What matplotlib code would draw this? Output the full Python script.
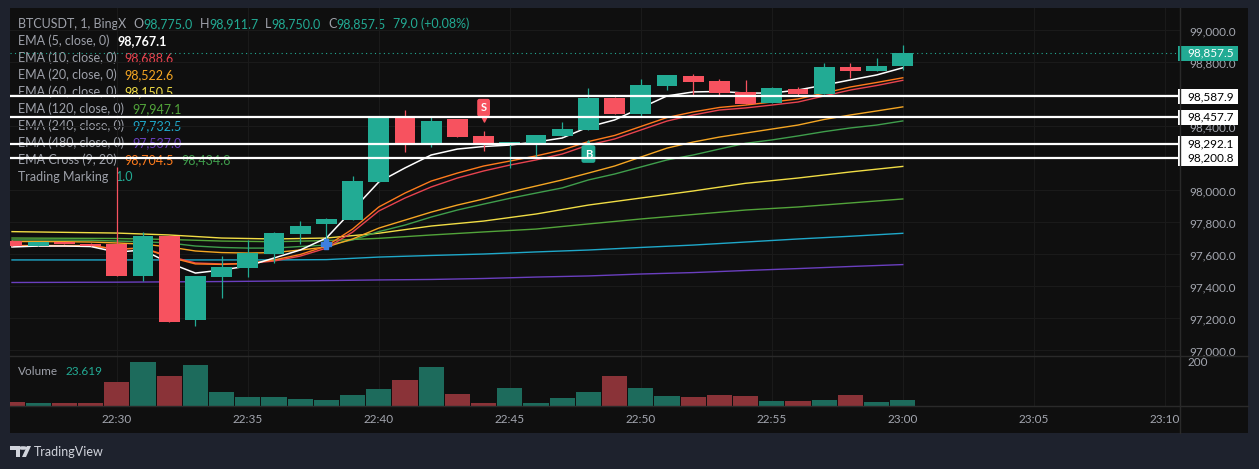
import numpy as np
import matplotlib
matplotlib.use("Agg")
import matplotlib.pyplot as plt
import matplotlib.transforms as mtransforms
from matplotlib.patches import Rectangle, Polygon, Circle

W, H = 1259, 469
FRAME = "#1e222d"; CHART = "#0f0f0f"; GRID = "#1a1a1a"; SEP = "#2a2a2a"
TXT = "#9ea1aa"; AXT = "#a3a6af"
UP = "#22ab94"; DN = "#f7525f"; VUP = "#1d6b5c"; VDN = "#8a3338"
plt.rcParams["font.family"] = ["Lato", "DejaVu Sans"]

# ---- data (1-minute candles, 22:26 .. 23:00) ----
opens = [97684, 97655, 97676, 97668, 97666, 97466, 97716, 97190, 97460, 97518, 97601, 97728,
         97791, 97816, 98055, 98455, 98284, 98447, 98341, 98289, 98295, 98341, 98378, 98578,
         98478, 98653, 98716, 98684, 98616, 98549, 98633, 98601, 98774, 98749, 98775.0]
highs = [97690, 97680, 97680, 97672, 98147, 97741, 97722, 97466, 97590, 97690, 97740, 97809,
         97826, 98090, 98461, 98503, 98466, 98447, 98374, 98305, 98347, 98428, 98639, 98586,
         98697, 98722, 98728, 98697, 98691, 98645, 98645, 98795, 98799, 98828, 98911.7]
lows = [97650, 97650, 97665, 97650, 97466, 97436, 97180, 97153, 97330, 97461, 97545, 97666,
        97666, 97816, 98050, 98242, 98274, 98336, 98249, 98141, 98201, 98341, 98378, 98478,
        98458, 98628, 98591, 98591, 98541, 98549, 98591, 98601, 98705, 98749, 98750.0]
closes = [97653, 97676, 97668, 97655, 97466, 97716, 97180, 97466, 97522, 97607, 97733, 97778,
          97822, 98059, 98455, 98289, 98434, 98336, 98289, 98301, 98347, 98383, 98578, 98478,
          98659, 98722, 98678, 98611, 98541, 98639, 98601, 98774, 98749, 98778, 98857.5]
volumes = [16, 13, 13, 13, 94, 173, 118, 161, 55, 35, 35, 27.5, 24, 43, 67, 102, 153, 47, 13,
           71, 13, 31, 55, 118, 71, 39, 35, 43, 39, 20, 20, 24, 43, 16, 23.619]
time_ticks = [4, 9, 14, 19, 24, 29, 34, 39, 44]
time_labels = ["22:30", "22:35", "22:40", "22:45", "22:50", "22:55", "23:00", "23:05", "23:10"]

ema5 = [97647, 97653, 97653, 97650, 97615, 97628, 97547, 97484, 97503, 97528, 97578, 97628,
        97703, 97878, 98053, 98141, 98222, 98259, 98275, 98284, 98303, 98328, 98397, 98441,
        98516, 98591, 98616, 98619, 98609, 98609, 98628, 98659, 98691, 98722, 98767.1]
ema10 = [97653, 97653, 97653, 97653, 97634, 97640, 97590, 97547, 97541, 97544, 97559, 97590,
         97640, 97740, 97872, 97953, 98022, 98078, 98122, 98159, 98191, 98228, 98284, 98322,
         98378, 98434, 98472, 98503, 98516, 98534, 98553, 98591, 98628, 98656, 98688.6]
cross_fast = [97656, 97656, 97656, 97656, 97634, 97640, 97584, 97541, 97538, 97544, 97566, 97600,
              97653, 97759, 97897, 97984, 98059, 98109, 98153, 98184, 98216, 98253, 98306, 98344,
              98400, 98456, 98491, 98519, 98534, 98553, 98572, 98609, 98647, 98675, 98704.5]
ema20 = [97681, 97681, 97680, 97678, 97672, 97665, 97647, 97622, 97612, 97609, 97612, 97628,
         97647, 97697, 97765, 97815, 97865, 97909, 97947, 97990, 98028, 98066, 98109, 98153,
         98209, 98265, 98303, 98334, 98359, 98384, 98409, 98444, 98472, 98497, 98522.6]
cross_slow = [97691, 97691, 97690, 97689, 97684, 97680, 97672, 97653, 97644, 97640, 97640, 97650,
              97659, 97691, 97743, 97784, 97834, 97878, 97915, 97951, 97984, 98016, 98066, 98103,
              98147, 98191, 98222, 98259, 98295, 98316, 98341, 98368, 98391, 98409, 98434.8]
slow_idx = [0, 4, 6, 8, 10, 12, 14, 16, 18, 20, 22, 24, 26, 28, 30, 32, 34]
ema60 = [97743, 97734, 97722, 97703, 97697, 97703, 97733, 97778, 97809, 97853, 97909, 97953,
         97997, 98045, 98078, 98116, 98150.5]
ema120 = [97703, 97700, 97694, 97684, 97680, 97687, 97701, 97722, 97741, 97759, 97791, 97822,
          97850, 97878, 97897, 97922, 97947.1]
ema240 = [97566, 97566, 97566, 97566, 97566, 97568, 97584, 97594, 97603, 97616, 97628, 97644,
          97659, 97678, 97697, 97714, 97732.5]
ema480 = [97425, 97427, 97429, 97431, 97434, 97437, 97441, 97444, 97450, 97459, 97466, 97478,
          97487, 97500, 97512, 97525, 97537.0]
levels = [98587.9, 98457.7, 98292.1, 98200.8]

n = len(closes)
xs = np.arange(n)
o, h, l, c = (np.array(a, float) for a in (opens, highs, lows, closes))
up = c >= o


def fx(px):
    return px / W


def fy(py):
    return 1 - py / H


fig = plt.figure(figsize=(W / 100, H / 100), dpi=100)
fig.patch.set_facecolor(FRAME)
fig.patches.append(Rectangle((fx(10), fy(433)), fx(1238), fy(8) - fy(433), transform=fig.transFigure,
                             fc=CHART, ec="none", zorder=-5))

XL = ((10 - 12) / 26.2, (1180 - 12) / 26.2)
ax = fig.add_axes([fx(10), fy(356), fx(1170), fy(8) - fy(356)])
axv = fig.add_axes([fx(10), fy(406), fx(1170), fy(356) - fy(406)])
axt = fig.add_axes([fx(10), fy(433), fx(1170), fy(406) - fy(433)])
for a in (ax, axv, axt):
    a.set_facecolor("none")
    a.set_xlim(*XL)
    for s in a.spines.values():
        s.set_visible(False)
    a.set_xticks(time_ticks)
    a.tick_params(axis="x", length=0, labelbottom=False)

ax.set_ylim(99000 - 325.5 * 6.25, 99000 + 22.5 * 6.25)
ax.yaxis.tick_right()
ax.set_yticks(np.arange(97000, 99001, 200))
boxed = levels + [closes[-1]]


def price_fmt(v, p):
    # the price axis hides labels sitting under a highlighted price box
    if any(abs(v - b) < 30 for b in boxed):
        return ""
    return f"{v:,.1f}"


ax.yaxis.set_major_formatter(matplotlib.ticker.FuncFormatter(price_fmt))
ax.tick_params(axis="y", length=0, pad=7, labelcolor=AXT, labelsize=8.5)
ax.grid(True, color=GRID, lw=0.8, zorder=0)

# EMA lines
ax.plot(xs[slow_idx], ema480, color="#6a3fbf", lw=1.0, zorder=2)
ax.plot(xs[slow_idx], ema240, color="#1fa8c9", lw=1.0, zorder=2)
ax.plot(xs[slow_idx], ema120, color="#52a43a", lw=1.0, zorder=2)
ax.plot(xs[slow_idx], ema60, color="#f1dd45", lw=1.0, zorder=2)
ax.plot(xs, cross_slow, color="#3f9e4c", lw=1.0, zorder=2)
ax.plot(xs, ema20, color="#f5a623", lw=1.0, zorder=2)
ax.plot(xs, ema10, color="#e8434f", lw=1.0, zorder=2)
ax.plot(xs, cross_fast, color="#ff7b1c", lw=1.0, zorder=2)
ax.plot(xs, ema5, color="#ffffff", lw=1.1, zorder=2)

# candles
cols = np.where(up, UP, DN)
ax.vlines(xs, l, h, colors=cols, lw=0.9, zorder=3)
body = np.maximum(np.abs(c - o), 6)
ax.bar(xs, body, bottom=np.minimum(o, c), width=0.8, color=cols, zorder=3)

# markers
ax.scatter([12], [l[12]], marker="P", s=45, color="#3d7fe0", zorder=4)
ax.annotate("S", xy=(18, h[18]), xytext=(0, 23), textcoords="offset pixels", ha="center", va="center",
            color="white", fontsize=8, fontweight="bold", zorder=5,
            bbox=dict(boxstyle="round,pad=0.3,rounding_size=0.2", fc=DN, ec="none"))
ax.scatter([18], [h[18]], marker="v", s=14, color=DN, zorder=5,
           transform=mtransforms.offset_copy(ax.transData, fig, x=0, y=12, units="dots"))
ax.annotate("B", xy=(22, l[22]), xytext=(0, -24), textcoords="offset pixels", ha="center", va="center",
            color="white", fontsize=8, fontweight="bold", zorder=5,
            bbox=dict(boxstyle="round,pad=0.3,rounding_size=0.2", fc=UP, ec="none"))
ax.scatter([22], [l[22]], marker="^", s=14, color=UP, zorder=5,
           transform=mtransforms.offset_copy(ax.transData, fig, x=0, y=-13, units="dots"))

# horizontal levels and price-axis boxes
bt = mtransforms.blended_transform_factory(ax.transAxes, ax.transData)
x0 = (1178 - 10) / 1170; bw = 60 / 1170
for lv in levels:
    ax.axhline(lv, color="white", lw=1.6, zorder=6)
    ax.add_patch(Rectangle((x0, lv - 7.5 * 6.25), bw, 15 * 6.25, transform=bt, fc="white", ec="none",
                           clip_on=False, zorder=7))
    ax.text((1187 - 10) / 1170, lv, f"{lv:,.1f}", transform=bt, color="black", fontsize=8.5,
            va="center", ha="left", zorder=8, clip_on=False)
last = c[-1]
ax.axhline(last, color=UP, lw=0.8, ls=(0, (1, 3)), zorder=5)
ax.add_patch(Rectangle((x0, last - 7.5 * 6.25), bw, 15 * 6.25, transform=bt, fc=UP, ec="none",
                       clip_on=False, zorder=7))
ax.text((1187 - 10) / 1170, last, f"{last:,.1f}", transform=bt, color="white", fontsize=8.5,
        va="center", ha="left", zorder=8, clip_on=False)

# volume
axv.set_ylim(0, 50 * 3.93)
axv.set_yticks([])
axv.grid(True, axis="x", color=GRID, lw=0.8, zorder=0)
axv.bar(xs, volumes, width=0.96, color=np.where(up, VUP, VDN), zorder=2)
axv.text(8 / 1170, 0.7, "Volume", transform=axv.transAxes, color=TXT, fontsize=8.5, va="center")
axv.text(56 / 1170, 0.7, f"{volumes[-1]:.3f}", transform=axv.transAxes, color=UP, fontsize=8.5, va="center")

# time axis
axt.set_ylim(0, 1)
axt.set_yticks([])
for tk, lab in zip(time_ticks, time_labels):
    axt.text(tk, 0.5, lab, color=AXT, fontsize=8.5, ha="center", va="center", clip_on=True)

# separators
fig.add_artist(plt.Line2D([fx(10), fx(1248)], [fy(356), fy(356)], color=SEP, lw=1))
fig.add_artist(plt.Line2D([fx(10), fx(1248)], [fy(406), fy(406)], color=SEP, lw=1))
fig.add_artist(plt.Line2D([fx(1180), fx(1180)], [fy(8), fy(433)], color=SEP, lw=1))
fig.text(fx(1187), fy(362), "200", color=AXT, fontsize=8.5, va="center")

# legend rows
ren = fig.canvas.get_renderer()


def row(y_px, parts, x_px=18, size=9):
    x = x_px
    for s, col, gap, wt in parts:
        x += gap
        t = ax.text(fx(x), fy(y_px), s, color=col, fontsize=size, fontweight=wt, va="center", ha="left",
                    transform=fig.transFigure, zorder=1)
        x += t.get_window_extent(ren).width


row(24, [("BTCUSDT, 1, BingX", TXT, 0, "normal"), ("O", TXT, 7, "normal"), ("98,775.0", UP, 0, "normal"),
         ("H", TXT, 7, "normal"), ("98,911.7", UP, 0, "normal"), ("L", TXT, 7, "normal"),
         ("98,750.0", UP, 0, "normal"), ("C", TXT, 7, "normal"), ("98,857.5", UP, 0, "normal"),
         ("79.0 (+0.08%)", UP, 7, "normal")])
rows = [("EMA (5, close, 0)", "98,767.1", "#ffffff", "bold"),
        ("EMA (10, close, 0)", "98,688.6", "#e8434f", "normal"),
        ("EMA (20, close, 0)", "98,522.6", "#f5a623", "normal"),
        ("EMA (60, close, 0)", "98,150.5", "#f1dd45", "normal"),
        ("EMA (120, close, 0)", "97,947.1", "#52a43a", "normal"),
        ("EMA (240, close, 0)", "97,732.5", "#1fa8c9", "normal"),
        ("EMA (480, close, 0)", "97,537.0", "#6a3fbf", "normal")]
for i, (lab, val, col, wt) in enumerate(rows):
    row(41 + 17 * i, [(lab, TXT, 0, "normal"), (val, col, 8, wt)])
row(160, [("EMA Cross (9, 20)", TXT, 0, "normal"), ("98,704.5", "#ff7b1c", 8, "normal"),
          ("98,434.8", "#3f9e4c", 7, "normal")])
row(177, [("Trading Marking", TXT, 0, "normal"), ("1.0", UP, 8, "normal")])

# TradingView footer
lc = "#d1d4dc"
fig.patches.append(Polygon([[fx(10), fy(446)], [fx(20), fy(446)], [fx(20), fy(457)], [fx(16), fy(457)],
                            [fx(16), fy(450)], [fx(10), fy(450)]], transform=fig.transFigure, fc=lc, ec="none"))
fig.patches.append(Circle((fx(23), fy(448)), 1.8 / H, transform=fig.transFigure, fc=lc, ec="none"))
fig.patches.append(Polygon([[fx(22), fy(457)], [fx(27), fy(446)], [fx(31), fy(446)], [fx(26), fy(457)]],
                           transform=fig.transFigure, fc=lc, ec="none"))
fig.text(fx(34), fy(452), "TradingView", color=lc, fontsize=9, va="center", ha="left")

fig.savefig("out.png", dpi=100, facecolor=FRAME)
